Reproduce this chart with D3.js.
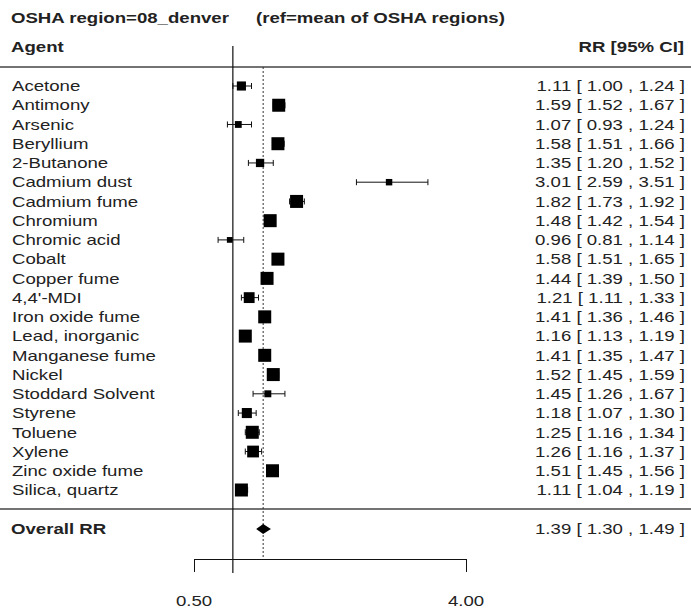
<!DOCTYPE html>
<html>
<head>
<meta charset="utf-8">
<script src="https://cdn.jsdelivr.net/npm/d3@7"></script>
<style>
  body { margin: 0; background: #fff; }
  text { font-family: "Liberation Sans", Arial, sans-serif; fill: #222; }
</style>
</head>
<body>
<div id="forest"></div>
<script>
var agents = ["Acetone","Antimony","Arsenic","Beryllium","2-Butanone","Cadmium dust","Cadmium fume",
  "Chromium","Chromic acid","Cobalt","Copper fume","4,4'-MDI","Iron oxide fume","Lead, inorganic",
  "Manganese fume","Nickel","Stoddard Solvent","Styrene","Toluene","Xylene","Zinc oxide fume","Silica, quartz"];
var rr    = [1.11,1.59,1.07,1.58,1.35,3.01,1.82,1.48,0.96,1.58,1.44,1.21,1.41,1.16,1.41,1.52,1.45,1.18,1.25,1.26,1.51,1.11];
var lower = [1.00,1.52,0.93,1.51,1.20,2.59,1.73,1.42,0.81,1.51,1.39,1.11,1.36,1.13,1.35,1.45,1.26,1.07,1.16,1.16,1.45,1.04];
var upper = [1.24,1.67,1.24,1.66,1.52,3.51,1.92,1.54,1.14,1.65,1.50,1.33,1.46,1.19,1.47,1.59,1.67,1.30,1.34,1.37,1.56,1.19];
var overall = {rr: 1.39, lower: 1.30, upper: 1.49};
var refValue = 1.00;
var axisTicks = [0.50, 4.00];

var svgWidth = 691, svgHeight = 610;
var fs = 15, stretch = 1.24;

var data = agents.map(function(a, i) {
  return {agent: a, rr: rr[i], lo: lower[i], hi: upper[i]};
});

var xscale = d3.scaleLinear().domain([0.5, 4]).range([194, 466]);
var yscale = d3.scalePoint().domain(agents).range([86, 490]);
// box size from 1/se (se from log CI width), capped
var boxScale = d3.scaleLinear().domain([0, 26]).range([0, 13]).clamp(true);
function se(d) { return Math.log(d.hi / d.lo) / 3.92; }
function fmt(v) { return v.toFixed(2); }
function ciText(r, l, u) { return fmt(r) + " [ " + fmt(l) + " , " + fmt(u) + " ]"; }

var svg = d3.select("#forest").append("svg")
  .attr("width", svgWidth)
  .attr("height", svgHeight);

function label(x, y, str, anchor, bold) {
  var t = svg.append("text")
    .attr("x", x).attr("y", y)
    .attr("dy", "0.35em")
    .attr("text-anchor", anchor || "start")
    .style("font-size", fs + "px")
    .style("font-weight", bold ? "bold" : "normal")
    .text(str);
  // the reference text is a bit wider than plain Arial
  var w = t.node().getComputedTextLength();
  t.attr("textLength", w * stretch).attr("lengthAdjust", "spacingAndGlyphs");
  return t;
}

// header
label(11, 18, "OSHA region=08_denver", "start", true);
label(256, 18, "(ref=mean of OSHA regions)", "start", true);
label(11, 47, "Agent", "start", true);
label(684, 47, "RR [95% CI]", "end", true);

// rules
svg.append("line").attr("x1", 0).attr("x2", svgWidth).attr("y1", 67).attr("y2", 67)
  .attr("stroke", "#444").attr("stroke-width", 1.6);
svg.append("line").attr("x1", 0).attr("x2", svgWidth).attr("y1", 509).attr("y2", 509)
  .attr("stroke", "#444").attr("stroke-width", 1.6);

// reference lines
svg.append("line")
  .attr("x1", xscale(refValue)).attr("x2", xscale(refValue))
  .attr("y1", 46).attr("y2", 573)
  .attr("stroke", "#111").attr("stroke-width", 1.2);
svg.append("line")
  .attr("x1", xscale(overall.rr)).attr("x2", xscale(overall.rr))
  .attr("y1", 67).attr("y2", 559)
  .attr("stroke", "#333").attr("stroke-width", 1)
  .attr("stroke-dasharray", "2,2");

// rows
var rows = svg.selectAll(".row")
  .data(data)
  .enter().append("g")
  .attr("class", "row");

rows.append("line")
  .attr("x1", d => xscale(d.lo)).attr("x2", d => xscale(d.hi))
  .attr("y1", d => yscale(d.agent)).attr("y2", d => yscale(d.agent))
  .attr("stroke", "#111").attr("stroke-width", 1);
rows.append("line")
  .attr("x1", d => xscale(d.lo)).attr("x2", d => xscale(d.lo))
  .attr("y1", d => yscale(d.agent) - 3).attr("y2", d => yscale(d.agent) + 3)
  .attr("stroke", "#111").attr("stroke-width", 1);
rows.append("line")
  .attr("x1", d => xscale(d.hi)).attr("x2", d => xscale(d.hi))
  .attr("y1", d => yscale(d.agent) - 3).attr("y2", d => yscale(d.agent) + 3)
  .attr("stroke", "#111").attr("stroke-width", 1);
rows.append("rect")
  .attr("x", d => xscale(d.rr) - boxScale(1 / se(d)) / 2)
  .attr("y", d => yscale(d.agent) - boxScale(1 / se(d)) / 2)
  .attr("width", d => boxScale(1 / se(d)))
  .attr("height", d => boxScale(1 / se(d)))
  .attr("fill", "#000");

data.forEach(function(d) {
  label(12, yscale(d.agent), d.agent, "start", false);
  label(685, yscale(d.agent), ciText(d.rr, d.lo, d.hi), "end", false);
});

// overall
var yo = 529;
svg.append("polygon")
  .attr("points", [[xscale(overall.lower), yo], [xscale(overall.rr), yo - 5],
                   [xscale(overall.upper), yo], [xscale(overall.rr), yo + 5]].join(" "))
  .attr("fill", "#000");
label(11, yo, "Overall RR", "start", true);
label(685, yo, ciText(overall.rr, overall.lower, overall.upper), "end", false);

// x axis
var xAxis = d3.axisBottom(xscale).tickValues(axisTicks).tickSize(13).tickSizeOuter(0)
  .tickFormat(d3.format(".2f"));
var ax = svg.append("g")
  .attr("transform", "translate(0,559)")
  .call(xAxis);
ax.select(".domain").attr("stroke", "#111");
ax.selectAll(".tick line").attr("stroke", "#111");
ax.selectAll(".tick text").remove();
axisTicks.forEach(function(t) {
  label(xscale(t), 601, fmt(t), "middle", false);
});
</script>
</body>
</html>
